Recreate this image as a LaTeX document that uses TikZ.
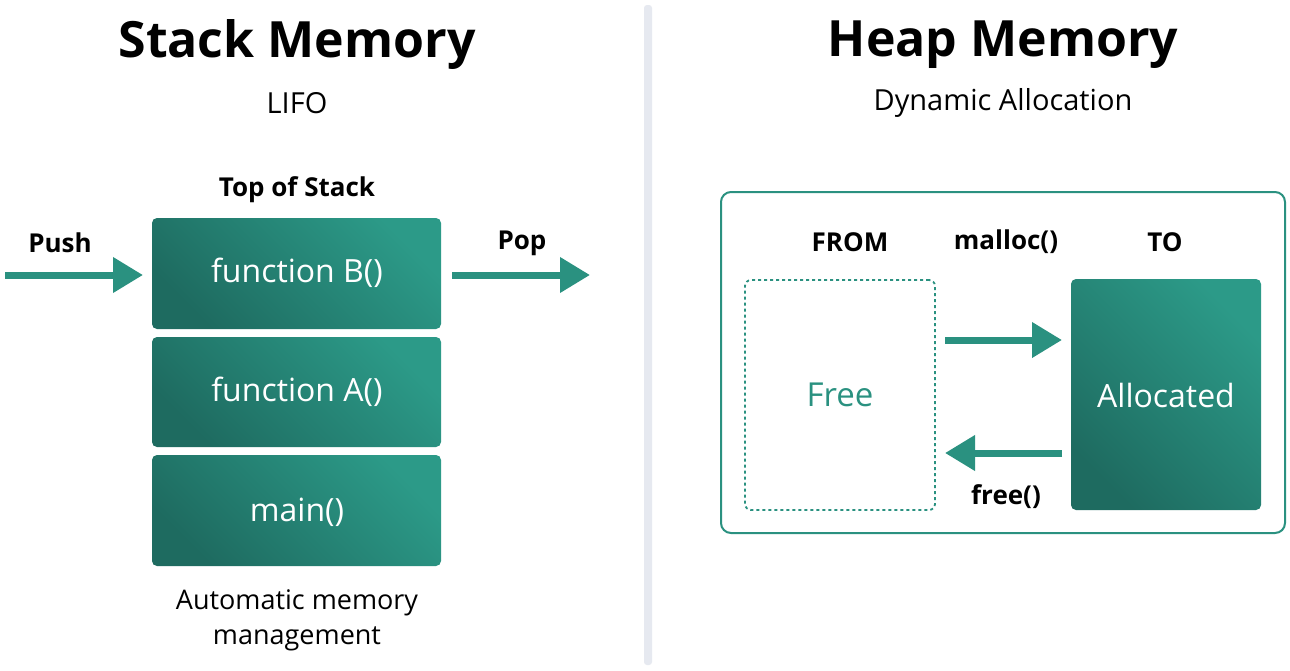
\documentclass[tikz,border=0pt]{standalone}
\usepackage{fontspec}
\setmainfont{Open Sans}
\usetikzlibrary{arrows.meta}
\definecolor{tdark}{HTML}{1E6B60}
\definecolor{tlight}{HTML}{2C9A88}
\definecolor{tmid}{HTML}{2A9180}
\definecolor{divc}{HTML}{E6E9F0}
\begin{document}
\begin{tikzpicture}[x=1pt,y=-1pt,
  blk/.style={rounded corners=5pt,left color=tdark,right color=tlight,shading angle=45,draw=none},
  btxt/.style={text=white,font=\fontsize{32}{36}\selectfont},
  lbl/.style={font=\bfseries\fontsize{26}{30}\selectfont},
  arr/.style={draw=tmid,line width=7pt,-{Triangle[length=30pt,width=34pt]}},
  title/.style={font=\bfseries\fontsize{50}{56}\selectfont},
  sub/.style={font=\fontsize{29}{34}\selectfont}]
\useasboundingbox (0,0) rectangle (1290,670);
\fill[white] (0,0) rectangle (1290,670);
\fill[divc,rounded corners=3pt] (644,5) rectangle (652,665);
% Stack
\node[title] (st) at (297,45) {Stack Memory};
\node[sub] (lifo) at (297,103) {LIFO};
\node[lbl] (top) at (297,190) {Top of Stack};
\shade[blk,shading angle=135] (152,218) rectangle (441,329);
\shade[blk,shading angle=135] (152,337) rectangle (441,447);
\shade[blk,shading angle=135] (152,455) rectangle (441,566);
\node[btxt] (fb) at (297,273) {function B()};
\node[btxt] (fa) at (297,392) {function A()};
\node[btxt] (mn) at (297,512) {main()};
\node[lbl] (push) at (60,243) {Push};
\node[lbl] (pop) at (522,243) {Pop};
\coordinate (pushs) at (5,275); \coordinate (pushe) at (143,275);
\coordinate (pops) at (452,275); \coordinate (pope) at (590,275);
\draw[arr] (pushs) -- (pushe);
\draw[arr] (pops) -- (pope);
\node[sub,font=\fontsize{27}{35}\selectfont,align=center] (auto) at (297,620) {Automatic memory\\management};
% Heap
\node[title] (hp) at (1003,45) {Heap Memory};
\node[sub] (dyn) at (1003,103) {Dynamic Allocation};
\draw[tmid,line width=2pt,rounded corners=10pt] (721,192) rectangle (1285,533);
\node[lbl] (from) at (850,242) {FROM};
\node[lbl] (mal) at (1006,242) {malloc()};
\node[lbl] (to) at (1165,242) {TO};
\node[draw=tmid,dashed,line width=1.8pt,rounded corners=6pt,minimum width=190pt,minimum height=230pt] (free) at (840,395) {};
\node[text=tmid,font=\fontsize{33}{36}\selectfont] at (free.center) {Free};
\shade[blk,shading angle=135] (1071,279) rectangle (1261,510);
\node[btxt,minimum width=190pt,minimum height=231pt] (alloc) at (1166,395) {Allocated};
\coordinate (m1) at (945,340); \coordinate (m2) at (1062,340);
\coordinate (f1) at (1062,453); \coordinate (f2) at (945,453);
\draw[arr] (m1) -- (m2);
\draw[arr] (f1) -- (f2);
\node[lbl] (fr) at (1006,497) {free()};
\end{tikzpicture}
\end{document}
